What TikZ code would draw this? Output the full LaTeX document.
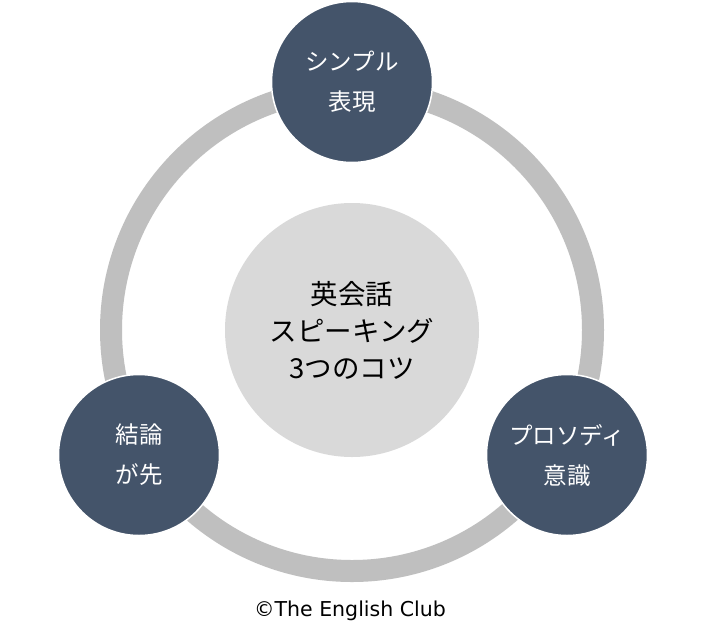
\documentclass[tikz,border=0pt]{standalone}
\usepackage{fontspec}
\newfontfamily\jpfont{Noto Sans CJK JP}
\newfontfamily\copyfont{DejaVu Sans}
\definecolor{tipblue}{HTML}{44546A}
\definecolor{hubgray}{HTML}{D9D9D9}
\definecolor{ringgray}{HTML}{BFBFBF}
\tikzset{
    tip/.style={circle, fill=tipblue, draw=white, line width=1.5pt, minimum size=161pt,
        inner sep=0pt, text=white, align=center, font=\jpfont\fontsize{23.5}{40}\selectfont},
    hub/.style={circle, fill=hubgray, minimum size=254pt, inner sep=0pt,
        align=center, font=\jpfont\fontsize{27.5}{37}\selectfont},
    ring/.style={draw=ringgray, line width=22pt}
}
\begin{document}
\begin{tikzpicture}[x=1pt, y=-1pt]
    \useasboundingbox[fill=white] (0,0) rectangle (702,638);

    % Ring and centre
    \coordinate (mid) at (352,330);
    \draw[ring] (mid) circle[radius=241];
    \node[hub] (hub) at (mid) {英会話\\スピーキング\\3つのコツ};

    % Three tips on the ring
    \node[tip] (simple) at (352,82) {シンプル\\表現};
    \node[tip] (concl) at (139,455) {結論\\が先};
    \node[tip] (prosody) at (567,455) {プロソディ\\意識};

    % Credit
    \node[font=\copyfont\fontsize{20.5}{22}\selectfont] (credit) at (350,611) {©The English Club};
\end{tikzpicture}
\end{document}
